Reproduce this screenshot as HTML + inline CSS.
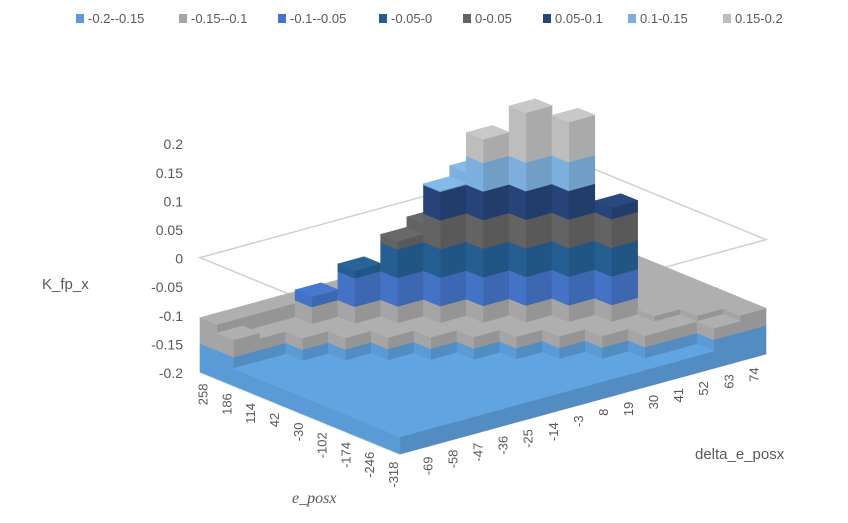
<!DOCTYPE html>
<html><head><meta charset="utf-8"><style>
body{margin:0;background:#fff;}
svg{display:block;font-family:"Liberation Sans",sans-serif;}
</style></head><body>
<svg id="chart" width="848" height="523" viewBox="0 0 848 523" xmlns="http://www.w3.org/2000/svg">
<g id="legend"></g>
<g id="frame"></g>
<g id="surface"></g>
<g id="zaxis"></g>
<g id="xaxis"></g>
<g id="yaxis"></g>
<text x="42" y="289" font-size="15" fill="#595959">K_fp_x</text>
<text x="695" y="459" font-size="15" fill="#595959">delta_e_posx</text>
<text x="292" y="503" font-size="16" font-style="italic" font-family="Liberation Serif, serif" fill="#595959">e_posx</text>
</svg>
<script>
const legendLabels=['-0.2--0.15','-0.15--0.1','-0.1--0.05','-0.05-0','0-0.05','0.05-0.1','0.1-0.15','0.15-0.2'];
const bandColors=['#5b9bd5','#a5a5a5','#4472c4','#255e91','#636363','#264478','#7cafdd','#bdbdbd'];
const zTicks=[0.2,0.15,0.1,0.05,0,-0.05,-0.1,-0.15,-0.2];
const zTickLabels=['0.2','0.15','0.1','0.05','0','-0.05','-0.1','-0.15','-0.2'];
const ePosxLabels=['258','186','114','42','-30','-102','-174','-246','-318'];
const deltaLabels=['-69','-58','-47','-36','-25','-14','-3','8','19','30','41','52','63','74'];
// rows: front (low e_posx) to back; columns: delta low to high
const zRow0=[-0.17,-0.17,-0.17,-0.17,-0.17,-0.17,-0.17,-0.17,-0.17,-0.17,-0.17,-0.17,-0.13,-0.12];
const zRow1=[-0.17,-0.17,-0.17,-0.17,-0.17,-0.17,-0.17,-0.17,-0.17,-0.17,-0.13,-0.13,-0.12,-0.12];
const zRow2=[-0.17,-0.17,-0.17,-0.17,-0.17,-0.17,-0.17,-0.17,-0.17,-0.13,-0.13,-0.12,-0.12,-0.12];
const zRow3=[-0.17,-0.17,-0.17,-0.17,-0.17,-0.17,-0.17,-0.17,-0.13,-0.13,0.07,-0.12,-0.12,-0.12];
const zRow4=[-0.17,-0.17,-0.17,-0.17,-0.17,-0.17,-0.17,-0.13,-0.13,0.22,0.0,-0.12,-0.12,-0.12];
const zRow5=[-0.17,-0.17,-0.17,-0.17,-0.17,-0.17,-0.13,-0.13,0.237,0.15,-0.07,-0.12,-0.12,-0.12];
const zRow6=[-0.17,-0.17,-0.17,-0.17,-0.17,-0.13,-0.13,0.191,0.167,0.08,-0.12,-0.12,-0.12,-0.12];
const zRow7=[-0.17,-0.17,-0.17,-0.17,-0.13,-0.13,0.102,0.121,0.097,0.01,-0.12,-0.12,-0.12,-0.12];
const zRow8=[-0.17,-0.17,-0.17,-0.13,-0.13,0.014,0.032,0.051,0.027,-0.06,-0.12,-0.12,-0.12,-0.12];
const zRow9=[-0.17,-0.17,-0.13,-0.13,-0.037,-0.056,-0.038,-0.019,-0.043,-0.105,-0.12,-0.12,-0.12,-0.12];
const zRow10=[-0.12,-0.13,-0.13,-0.082,-0.105,-0.105,-0.105,-0.089,-0.105,-0.105,-0.12,-0.12,-0.12,-0.12];
const zRow11=[-0.105,-0.105,-0.105,-0.105,-0.105,-0.105,-0.105,-0.105,-0.105,-0.105,-0.12,-0.12,-0.12,-0.12];
const zGrid=[zRow0,zRow1,zRow2,zRow3,zRow4,zRow5,zRow6,zRow7,zRow8,zRow9,zRow10,zRow11];

const NS='http://www.w3.org/2000/svg';
const F=[400,454],L=[200,372],R=[766,354];
const zMin=-0.2,zScale=572,bandStep=0.05;
function proj(u,v,z){return [F[0]+u*(L[0]-F[0])+v*(R[0]-F[0]), F[1]+u*(L[1]-F[1])+v*(R[1]-F[1])-(z-zMin)*zScale];}
function zY(z){return 373-(z-zMin)*zScale;}
function mk(tag,attrs,parent){const e=document.createElementNS(NS,tag);for(const k in attrs)e.setAttribute(k,attrs[k]);parent.appendChild(e);return e;}
function band(z){let i=Math.floor((z-zMin)/bandStep+1e-9);return Math.max(0,Math.min(7,i));}
function shade(hex,f){const n=parseInt(hex.slice(1),16);const r=Math.min(255,Math.round(((n>>16)&255)*f)),g=Math.min(255,Math.round(((n>>8)&255)*f)),b=Math.min(255,Math.round((n&255)*f));return 'rgb('+r+','+g+','+b+')';}
function pstr(pts){return pts.map(q=>q[0].toFixed(1)+','+q[1].toFixed(1)).join(' ');}

// legend
const lg=document.getElementById('legend');
const legX=[76,179,278,379,463,543,628,723];
legendLabels.forEach((t,i)=>{
  const r=mk('rect',{x:legX[i],y:14,width:8,height:9,fill:bandColors[i]},lg);
  
  
  const tx=mk('text',{x:legX[i]+12,y:23,'font-size':13,fill:'#595959'},lg);
  
  
  tx.textContent=t;
});

// frame at z=0
const fr=document.getElementById('frame');
const B=[L[0]+R[0]-F[0],L[1]+R[1]-F[1]];
const off=(0-zMin)*zScale;
const fp=[[F[0],F[1]-off],[L[0],L[1]-off],[B[0],B[1]-off],[R[0],R[1]-off]];
const fpoly=mk('polygon',{points:pstr(fp),fill:'none',stroke:'#d0d0d0','stroke-width':1.5},fr);


const a1=mk('line',{x1:L[0],y1:L[1],x2:F[0],y2:F[1],stroke:'#cfcfcf','stroke-width':3,'stroke-dasharray':'1 1.5'},fr);


const a2=mk('line',{x1:F[0],y1:F[1],x2:R[0],y2:R[1],stroke:'#d0d0d0','stroke-width':1},fr);



// surface as stepped prisms
const sg=document.getElementById('surface');
const nr=zGrid.length,nc=zGrid[0].length;
const cells=[];
for(let i=0;i<nr;i++)for(let j=0;j<nc;j++)cells.push([i,j]);
cells.sort((a,b)=>(b[0]+b[1])-(a[0]+a[1])||(b[0]-a[0]));
function sideFace(ua,va,ub,vb,z,f){
  let lo=zMin;
  while(lo<z-1e-9){
    const hi=Math.min(z,Math.floor((lo-zMin)/bandStep+1e-9)*bandStep+zMin+bandStep);
    const c=shade(bandColors[band(lo+1e-6)],f);
    const p=mk('polygon',{points:pstr([proj(ua,va,lo),proj(ub,vb,lo),proj(ub,vb,hi),proj(ua,va,hi)]),fill:c,stroke:c,'stroke-width':0.6},sg);
    
    
    lo=hi;
  }
}
cells.forEach(([i,j])=>{
  const z=zGrid[i][j];
  const u0=i/nr,u1=(i+1)/nr,v0=j/nc,v1=(j+1)/nc;
  sideFace(u0,v0,u0,v1,z,0.9);
  sideFace(u0,v0,u1,v0,z,1.0);
  const c=shade(bandColors[band(z)],1.06);
  const p=mk('polygon',{points:pstr([proj(u0,v0,z),proj(u0,v1,z),proj(u1,v1,z),proj(u1,v0,z)]),fill:c,stroke:c,'stroke-width':0.6},sg);
  
  
});

// z axis labels
const zg=document.getElementById('zaxis');
zTicks.forEach((z,k)=>{
  const t=mk('text',{x:183,y:zY(z)+5,'text-anchor':'end','font-size':14,fill:'#595959'},zg);
  
  
  t.textContent=zTickLabels[k];
});

// e_posx labels
const xg=document.getElementById('xaxis');
ePosxLabels.forEach((s,k)=>{
  const t0=(k+0.15)/(ePosxLabels.length-0.6);
  const x=L[0]+t0*(F[0]-L[0])+4,y=L[1]+t0*(F[1]-L[1])+10;
  const t=mk('text',{x:0,y:0,'text-anchor':'end','font-size':13,fill:'#595959',transform:`translate(${x.toFixed(1)},${y.toFixed(1)}) rotate(-90)`},xg);
  
  
  t.textContent=s;
});
// delta labels
const yg=document.getElementById('yaxis');
deltaLabels.forEach((s,k)=>{
  const t0=0.075+k*0.0685;
  const x=F[0]+t0*(R[0]-F[0])+5,y=F[1]+t0*(R[1]-F[1])+10;
  const t=mk('text',{x:0,y:0,'text-anchor':'end','font-size':13,fill:'#595959',transform:`translate(${x.toFixed(1)},${y.toFixed(1)}) rotate(-90)`},yg);
  
  
  t.textContent=s;
});
</script>
</body></html>
